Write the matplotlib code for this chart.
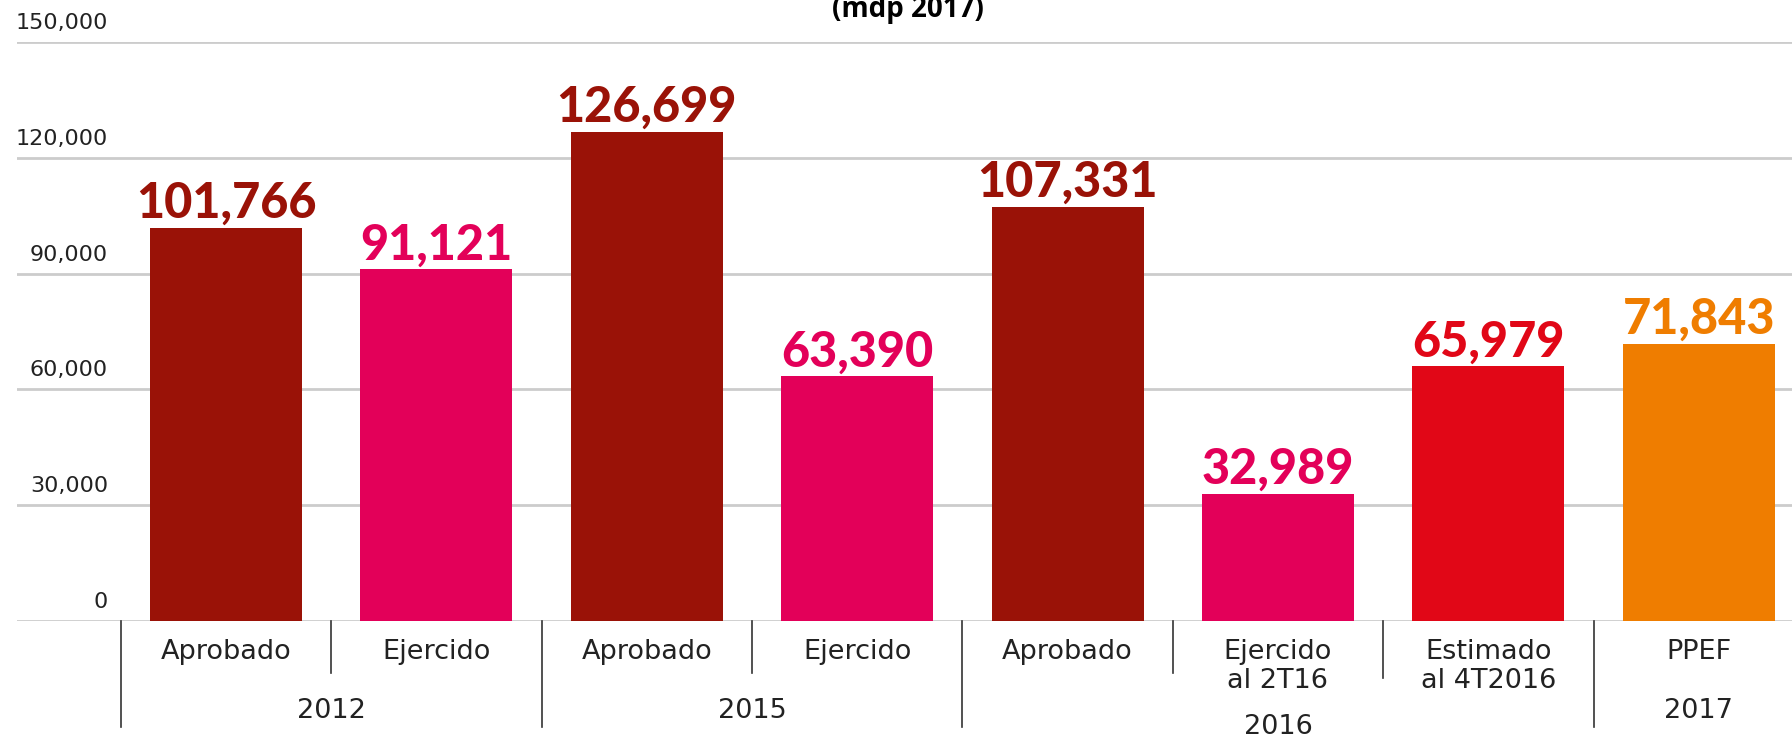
import matplotlib
matplotlib.use("Agg")
import matplotlib.pyplot as plt

categories = ["Aprobado", "Ejercido", "Aprobado", "Ejercido", "Aprobado",
              "Ejercido\nal 2T16", "Estimado\nal 4T2016", "PPEF"]
values = [101766, 91121, 126699, 63390, 107331, 32989, 65979, 71843]
value_labels = ["101,766", "91,121", "126,699", "63,390", "107,331", "32,989", "65,979", "71,843"]
colors = ["#9a1207", "#e30059", "#9a1207", "#e30059", "#9a1207", "#e30059", "#e10717", "#ef7d00"]
yticks = [0, 30000, 60000, 90000, 120000, 150000]
ytick_labels = ["0", "30,000", "60,000", "90,000", "120,000", "150,000"]
years = ["2012", "2015", "2016", "2017"]
year_pos = [0.5, 2.5, 5, 7]

W, H = 1792, 739
fig = plt.figure(figsize=(W / 100, H / 100), dpi=100)
# axes: left at 17px, zero line at 621px, 150k line at 42px
ax = fig.add_axes([17 / W, (H - 621) / H, 1 - 17 / W, (621 - 42) / H])
ax.set_xlim(-0.993, 7.443)
ax.set_ylim(0, 150000)
ax.axis("off")

font = "DejaVu Sans"
bold_font = "Lato"

for t, lab in zip(yticks, ytick_labels):
    ax.axhline(t, color="#cccccc", lw=2, zorder=0)
    ax.annotate(lab, xy=(0, t), xycoords=("axes fraction", "data"),
                xytext=(91, 13), textcoords="offset pixels",
                ha="right", va="baseline", fontsize=16, color="#222222", family=font)

x = list(range(len(values)))
ax.bar(x, values, width=0.722, color=colors, zorder=2)

for xi, v, lab, c in zip(x, values, value_labels, colors):
    ax.annotate(lab, xy=(xi, v), xytext=(0, 10), textcoords="offset pixels",
                ha="center", va="baseline", fontsize=35, fontweight="black",
                color=c, family=bold_font)

tr = ax.get_xaxis_transform()
def fy(py):
    return (621 - py) / 579

for xi, cat in zip(x, categories):
    ax.text(xi, fy(639), cat, transform=tr, ha="center", va="top",
            fontsize=19.5, color="#222222", family=font, linespacing=1.15)

for xp, yr, py in zip(year_pos, years, [711, 711, 727, 711]):
    ax.text(xp, fy(py), yr, transform=tr, ha="center", va="center",
            fontsize=19.5, color="#222222", family=font)

# separator lines under the axis
seps = [-0.5, 0.5, 1.5, 2.5, 3.5, 4.5, 5.5, 6.5]
ends = [727, 673, 727, 673, 727, 673, 678, 727]
for sx, e in zip(seps, ends):
    ax.plot([sx, sx], [0, fy(e)], transform=tr, color="#333333", lw=1.2, clip_on=False)

fig.text(908 / W, 1 - 17 / H, "(mdp 2017)", ha="center", va="baseline",
         fontsize=20, fontweight="bold", color="black", family="Open Sans")

fig.savefig("out.png", dpi=100)
